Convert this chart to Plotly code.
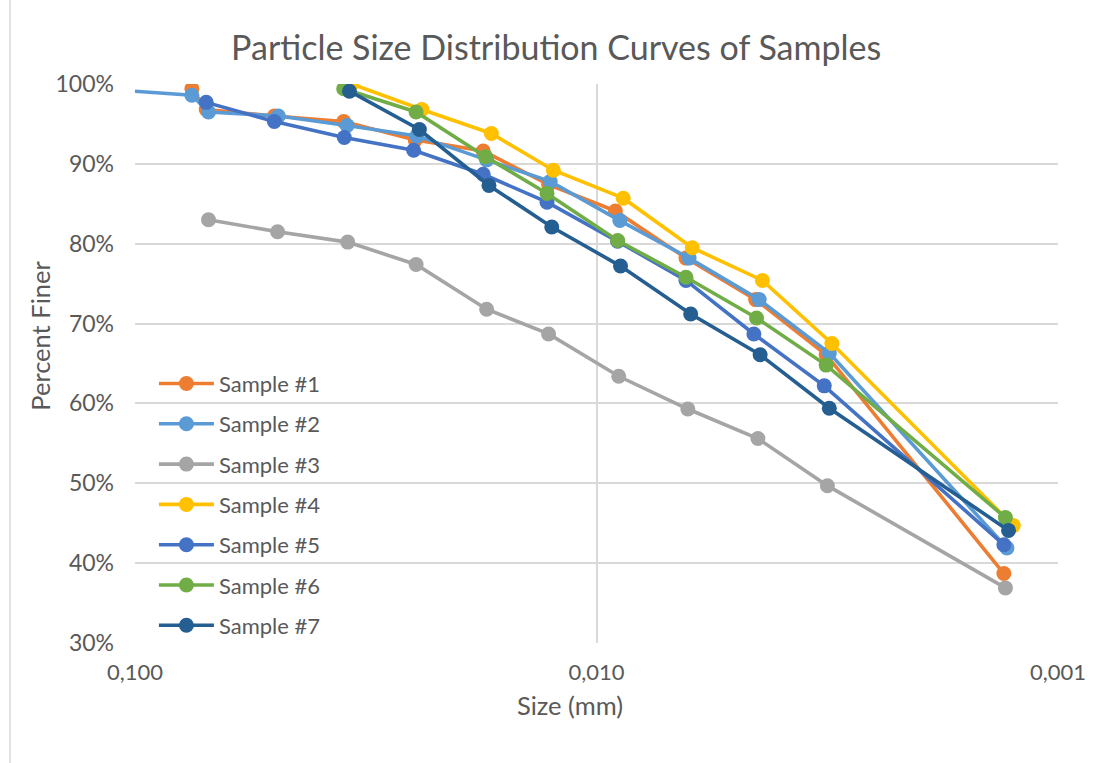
import plotly.graph_objects as go

# Particle size (mm) and percent finer for each sample
size_1 = [0.0753, 0.0701, 0.0499, 0.0353, 0.0247, 0.0176, 0.0127, 0.0091, 0.0064, 0.00452, 0.00318, 0.00131]
finer_1 = [99.4, 96.8, 96.0, 95.3, 93.0, 91.6, 87.4, 84.1, 78.2, 73.0, 66.1, 38.7]

size_2 = [0.15, 0.0753, 0.0693, 0.0489, 0.0347, 0.0245, 0.0173, 0.0126, 0.0089, 0.0063, 0.00444, 0.00313, 0.00129]
finer_2 = [99.8, 98.6, 96.5, 96.0, 94.8, 93.5, 90.5, 87.8, 82.9, 78.2, 73.0, 66.3, 41.9]

size_3 = [0.0693, 0.0491, 0.0346, 0.0246, 0.0173, 0.0127, 0.00895, 0.00634, 0.00447, 0.00316, 0.00130]
finer_3 = [83.0, 81.5, 80.2, 77.4, 71.8, 68.7, 63.4, 59.3, 55.6, 49.7, 36.9]

size_4 = [0.0339, 0.0239, 0.0169, 0.0124, 0.00875, 0.0062, 0.00437, 0.00309, 0.00125]
finer_4 = [100.0, 96.8, 93.8, 89.2, 85.7, 79.5, 75.4, 67.5, 44.7]

size_5 = [0.0701, 0.0499, 0.0352, 0.0249, 0.0176, 0.0128, 0.0090, 0.0064, 0.00456, 0.00321, 0.00131]
finer_5 = [97.7, 95.3, 93.3, 91.7, 88.7, 85.2, 80.3, 75.4, 68.7, 62.2, 42.3]

size_6 = [0.0353, 0.0246, 0.0174, 0.0128, 0.0090, 0.0064, 0.0045, 0.00318, 0.00130]
finer_6 = [99.4, 96.5, 90.9, 86.3, 80.4, 75.8, 70.7, 64.8, 45.7]

size_7 = [0.0343, 0.0242, 0.0171, 0.0125, 0.00887, 0.00625, 0.00442, 0.00313, 0.00128]
finer_7 = [99.1, 94.3, 87.3, 82.1, 77.2, 71.2, 66.1, 59.4, 44.1]

names = ["Sample #1", "Sample #2", "Sample #3", "Sample #4", "Sample #5", "Sample #6", "Sample #7"]
sizes = [size_1, size_2, size_3, size_4, size_5, size_6, size_7]
finers = [finer_1, finer_2, finer_3, finer_4, finer_5, finer_6, finer_7]
colors = ["#ED7D31", "#5B9BD5", "#A5A5A5", "#FFC000", "#4472C4", "#70AD47", "#255E91"]

x_tick_vals = [0.1, 0.01, 0.001]
x_tick_text = ["0,100", "0,010", "0,001"]

FONT = "Lato, 'Liberation Sans', sans-serif"
TEXT = "#595959"
GRID = "#D9D9D9"

fig = go.Figure()
for name, x, y, c in zip(names, sizes, finers, colors):
    fig.add_trace(go.Scatter(
        x=x, y=y, name=name, legendgroup=name,
        mode="lines+markers",
        line=dict(color=c, width=3.6),
        marker=dict(color=c, size=15),
    ))

fig.update_layout(
    width=1097, height=763,
    margin=dict(l=135, r=39, t=84, b=120),
    paper_bgcolor="white", plot_bgcolor="white",
    font=dict(family=FONT, color=TEXT, size=23),
    title=dict(text="Particle Size Distribution Curves of Samples",
               x=0.507, xanchor="center", y=0.937, yanchor="middle",
               font=dict(family=FONT, size=34, color=TEXT)),
    legend=dict(x=0.0205, y=0.5014, xanchor="left", yanchor="top",
                bgcolor="rgba(0,0,0,0)", tracegroupgap=8.7, itemwidth=55,
                font=dict(family=FONT, size=22, color=TEXT)),
    showlegend=True,
)

fig.update_xaxes(
    type="log", range=[-1, -3],
    tickvals=x_tick_vals, ticktext=x_tick_text,
    showgrid=True, gridcolor=GRID, gridwidth=1.5,
    showline=False, zeroline=False, ticks="",
    ticklabelstandoff=14,
    tickfont=dict(family=FONT, size=22, color=TEXT),
)
fig.update_yaxes(
    range=[30, 100], dtick=10, ticksuffix="%",
    showgrid=True, gridcolor=GRID, gridwidth=1.5,
    showline=False, zeroline=False, ticks="",
    ticklabelstandoff=20,
    tickfont=dict(family=FONT, size=23, color=TEXT),
)

# axis titles
fig.add_annotation(text="Size (mm)", xref="paper", yref="paper",
                   x=(570 - 135) / 923, y=-(705 - 643) / 558.5,
                   xanchor="center", yanchor="middle", showarrow=False,
                   font=dict(family=FONT, size=25.5, color=TEXT))
fig.add_annotation(text="Percent Finer", xref="paper", yref="paper",
                   x=-(135 - 40) / 923, y=(643 - 336) / 558.5, textangle=-90,
                   xanchor="center", yanchor="middle", showarrow=False,
                   font=dict(family=FONT, size=25.5, color=TEXT))

# chart-area frame edge on the left
fig.add_shape(type="line", xref="paper", yref="paper",
              x0=-125 / 923, x1=-125 / 923, y0=-120 / 558.5, y1=(558.5 + 84) / 558.5,
              line=dict(color=GRID, width=1.5))

fig.write_html("out.html")
